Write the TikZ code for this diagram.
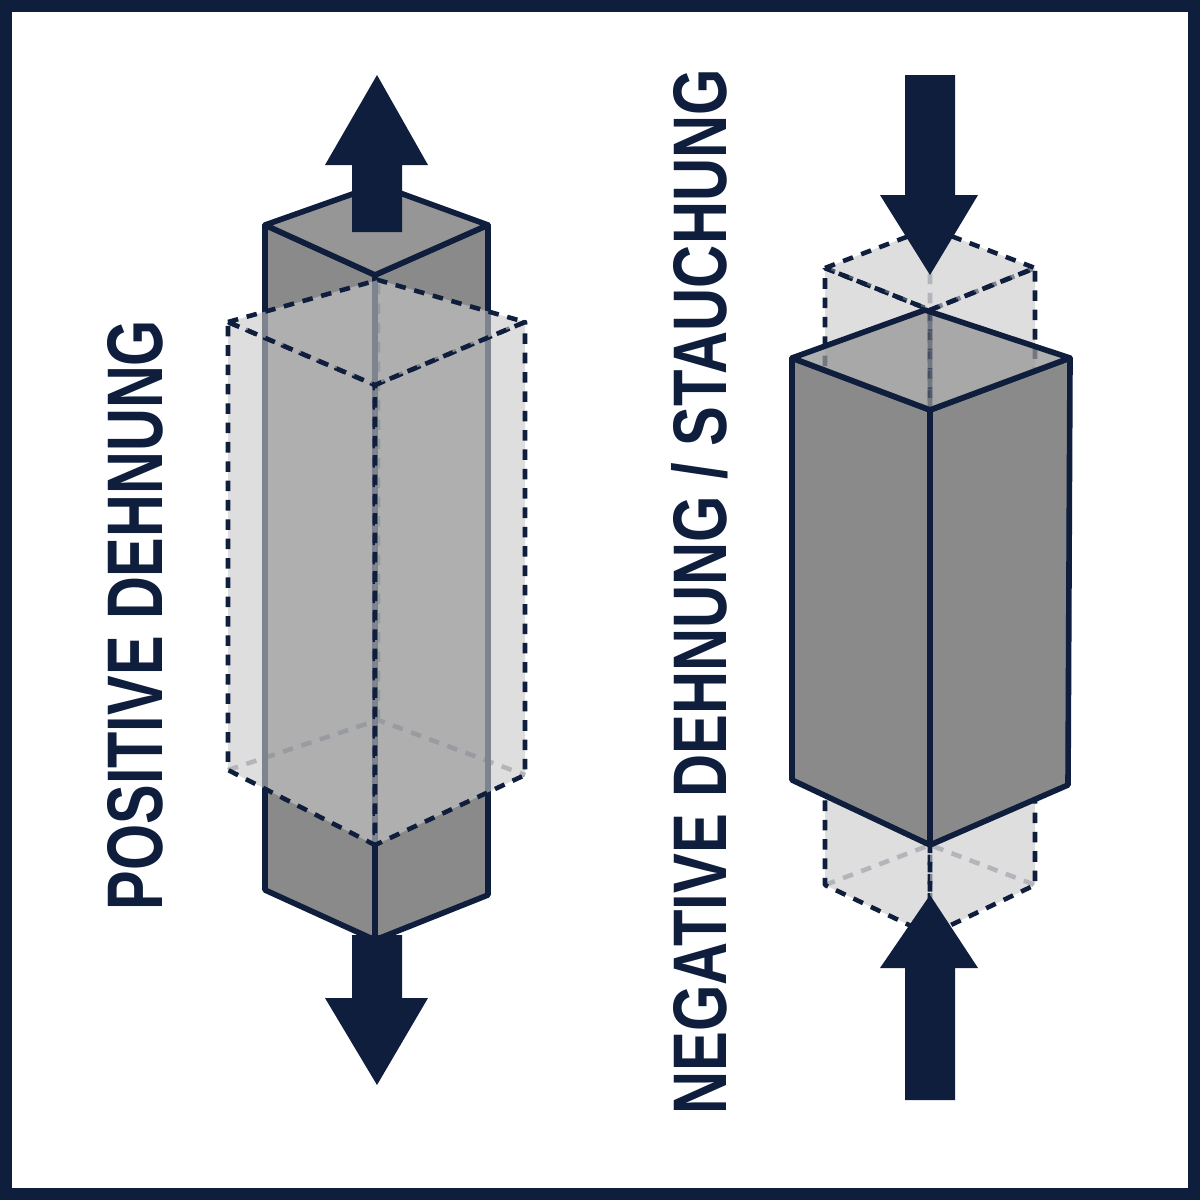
\documentclass[tikz,border=0pt]{standalone}
\usepackage{fontspec}
\setmainfont{Liberation Sans}
\usepackage{graphicx}
\definecolor{navy}{RGB}{14,30,60}
\definecolor{bodygray}{RGB}{138,138,138}
\definecolor{topgray}{RGB}{150,150,150}
\definecolor{ghostgray}{RGB}{200,200,200}
\tikzset{
  solid face/.style={fill=bodygray, draw=navy, line width=1.6pt, line join=round},
  top face/.style={fill=topgray, draw=navy, line width=1.6pt, line join=round},
  ghost face/.style={fill=ghostgray, fill opacity=0.6, draw=navy, draw opacity=1, dashed, dash pattern=on 3pt off 2.5pt, line width=1.3pt, line join=round},
  ghost edge/.style={draw=navy, dashed, dash pattern=on 3pt off 2.5pt, line width=1.3pt, opacity=0.45},
  bigarrow/.style={fill=navy, draw=none},
  label/.style={text=navy, rotate=90, inner sep=0pt}
}
\begin{document}
\begin{tikzpicture}[x=0.01cm, y=-0.01cm]
  \useasboundingbox (0,0) rectangle (1200,1200);
  \draw[navy, line width=3.4pt] (6,6) rectangle (1194,1194);

  % left: positive strain
  \draw[solid face] (265,225) -- (375,275) -- (375,940) -- (265,890) -- cycle;
  \draw[solid face] (375,275) -- (488,225) -- (488,895) -- (375,940) -- cycle;
  \draw[top face] (265,225) -- (378,185) -- (488,225) -- (375,275) -- cycle;
  \draw[ghost edge] (228,770) -- (378,720) -- (525,775) (378,720) -- (378,280);
  \draw[ghost face] (228,322) -- (375,385) -- (375,845) -- (228,770) -- cycle;
  \draw[ghost face] (375,385) -- (525,322) -- (525,775) -- (375,845) -- cycle;
  \draw[ghost face] (228,322) -- (378,280) -- (525,322) -- (375,385) -- cycle;
  \fill[bigarrow] (352,232) -- (352,165) -- (325,165) -- (377,75) -- (428,165) -- (402,165) -- (402,232) -- cycle;
  \fill[bigarrow] (352,935) -- (352,998) -- (325,998) -- (377,1085) -- (428,998) -- (402,998) -- (402,935) -- cycle;
  \node[label] (pos) at (135,615) {\resizebox{5.9cm}{0.55cm}{\bfseries POSITIVE DEHNUNG}};

  % right: negative strain
  \draw[ghost edge] (825,885) -- (930,845) -- (1035,885) (930,845) -- (930,228);
  \draw[ghost face] (825,268) -- (930,310) -- (930,935) -- (825,885) -- cycle;
  \draw[ghost face] (930,310) -- (1035,268) -- (1035,885) -- (930,935) -- cycle;
  \draw[ghost face] (825,268) -- (930,228) -- (1035,268) -- (930,310) -- cycle;
  \draw[solid face] (792,358) -- (930,410) -- (930,845) -- (792,780) -- cycle;
  \draw[solid face] (930,410) -- (1070,358) -- (1068,785) -- (930,845) -- cycle;
  \draw[top face, fill opacity=0.75] (792,358) -- (925,310) -- (1070,358) -- (930,410) -- cycle;
  \draw[ghost edge] (825,268) -- (930,310) -- (1035,268) (930,310) -- (930,410);
  \fill[bigarrow] (905,75) -- (905,195) -- (880,195) -- (930,275) -- (978,195) -- (955,195) -- (955,75) -- cycle;
  \fill[bigarrow] (905,1100) -- (905,968) -- (880,968) -- (930,895) -- (978,968) -- (955,968) -- (955,1100) -- cycle;
  \node[label] (neg) at (700,592) {\resizebox{10.45cm}{0.55cm}{\bfseries NEGATIVE DEHNUNG / STAUCHUNG}};
\end{tikzpicture}
\end{document}
